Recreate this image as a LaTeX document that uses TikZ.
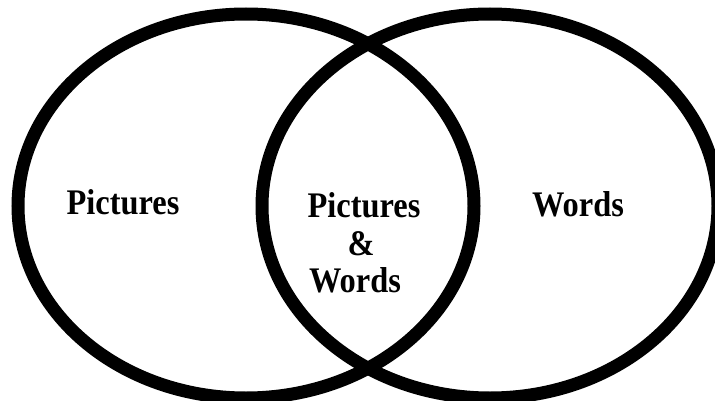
\documentclass[tikz,border=0pt]{standalone}
\usepackage{fontspec}
\setmainfont{Liberation Serif}
\newfontfamily\vennfont[FakeStretch=0.9]{Liberation Serif}
\usepackage{tikz}
\usepackage{xcolor}

\begin{document}
\begin{tikzpicture}[x=1pt, y=1pt, every node/.style={inner sep=0pt, anchor=base, font=\vennfont\bfseries\fontsize{36}{43}\selectfont}]
                \useasboundingbox (0,0) rectangle (715,400);
            
                % Set outlines
                \draw[line width=13pt] (246,194) ellipse [x radius=228, y radius=192];
                \draw[line width=13pt] (490,194) ellipse [x radius=228, y radius=192];
            
                % Set labels
                \node (picl) at (123,186) {Pictures};
                \node (wordr) at (578,184) {Words};
            
                % Overlap labels
                \node (picm) at (364,183) {Pictures};
                \node (amp) at (361,145) {\&};
                \node (wordm) at (355,108) {Words};
            \end{tikzpicture}
\end{document}
